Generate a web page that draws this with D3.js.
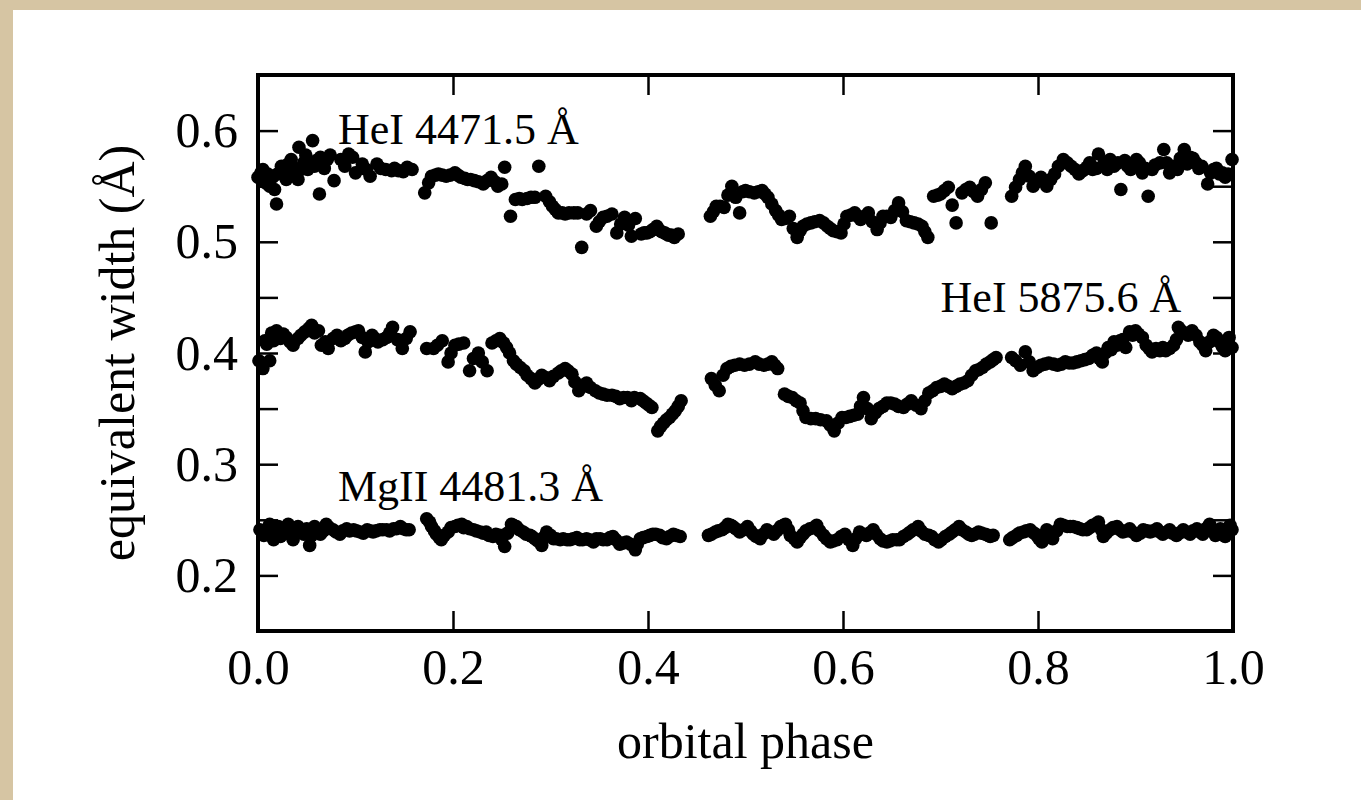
<!DOCTYPE html>
<html>
<head>
<meta charset="utf-8">
<script src="https://cdn.jsdelivr.net/npm/d3@7"></script>
<style>
  html, body { margin: 0; padding: 0; background: #d6c5a3; }
  #chart { width: 1361px; height: 800px; }
  text { font-family: "Liberation Serif", "Times New Roman", serif; fill: #000; }
</style>
</head>
<body>
<div id="chart"></div>
<script>
// Equivalent width vs orbital phase, three lines

// HeI 4471.5 A
const he4471Phase = [0.003, 0.005, 0.008, 0.012, 0.015, 0.019, 0.020, 0.024, 0.027, 0.029, 0.034, 0.036, 0.041, 0.042, 0.044, 0.047, 0.051, 0.056, 0.058, 0.063, 0.064, 0.071, 0.078, 0.085, 0.093, 0.100, 0.107, 0.115, 0.122, 0.131, 0.137, 0.144, 0.153, 0.158,
  0.171, 0.178, 0.185, 0.193, 0.202, 0.208, 0.215, 0.222, 0.231, 0.239, 0.246, 0.253, 0.259, 0.264, 0.271, 0.280, 0.288, 0.295, 0.302, 0.308, 0.315, 0.324, 0.332, 0.341, 0.347, 0.354, 0.363, 0.368, 0.376, 0.383, 0.387, 0.393, 0.399, 0.405, 0.409, 0.414, 0.419, 0.424, 0.427, 0.431,
  0.464, 0.470, 0.478, 0.486, 0.494, 0.500, 0.509, 0.517, 0.523, 0.531, 0.537, 0.545, 0.553, 0.559, 0.567, 0.576, 0.584, 0.590, 0.598, 0.604, 0.612, 0.618, 0.626, 0.635, 0.641, 0.649, 0.657, 0.665, 0.673, 0.681, 0.687, 0.693, 0.700, 0.708, 0.716, 0.722, 0.730, 0.738, 0.746, 0.752,
  0.773, 0.781, 0.787, 0.795, 0.803, 0.809, 0.817, 0.826, 0.834, 0.842, 0.850, 0.856, 0.862, 0.868, 0.874, 0.878, 0.885, 0.889, 0.895, 0.901, 0.907, 0.913, 0.917, 0.925, 0.929, 0.935, 0.943, 0.950, 0.956, 0.962, 0.968, 0.974, 0.980, 0.986, 0.992, 0.999,
  0.000, 0.010, 0.017, 0.031, 0.038, 0.049, 0.060, 0.068, 0.074, 0.089, 0.097, 0.111, 0.126, 0.140, 0.149,
  0.175, 0.182, 0.189, 0.197, 0.205, 0.212, 0.218, 0.226, 0.235, 0.243, 0.250, 0.268, 0.276, 0.284, 0.299, 0.305, 0.312, 0.319, 0.328, 0.337, 0.350, 0.358, 0.372, 0.380, 0.396, 0.402, 0.411, 0.417, 0.421,
  0.467, 0.474, 0.482, 0.490, 0.497, 0.504, 0.513, 0.520, 0.527, 0.534, 0.541, 0.549, 0.556, 0.563, 0.571, 0.580, 0.587, 0.594, 0.601, 0.608, 0.615, 0.622, 0.630, 0.638, 0.645, 0.653, 0.661, 0.669, 0.677, 0.684, 0.697, 0.704, 0.712, 0.726, 0.734, 0.742,
  0.777, 0.784, 0.791, 0.799, 0.806, 0.813, 0.821, 0.830, 0.838, 0.846, 0.853, 0.860, 0.871, 0.882, 0.892, 0.898, 0.904, 0.910, 0.920, 0.932, 0.939, 0.946, 0.953, 0.959, 0.965, 0.977, 0.983, 0.989, 0.995]
const he4471EW = [0.562, 0.565, 0.553, 0.550, 0.558, 0.534, 0.561, 0.568, 0.562, 0.556, 0.574, 0.567, 0.556, 0.585, 0.565, 0.571, 0.565, 0.591, 0.568, 0.543, 0.576, 0.574, 0.555, 0.574, 0.579, 0.562, 0.570, 0.559, 0.570, 0.565, 0.564, 0.564, 0.567, 0.565,
  0.544, 0.559, 0.561, 0.559, 0.562, 0.558, 0.556, 0.555, 0.552, 0.558, 0.550, 0.567, 0.523, 0.538, 0.538, 0.540, 0.568, 0.541, 0.532, 0.526, 0.525, 0.526, 0.495, 0.528, 0.514, 0.522, 0.525, 0.508, 0.522, 0.505, 0.521, 0.507, 0.508, 0.511, 0.514, 0.509, 0.507, 0.506, 0.504, 0.507,
  0.523, 0.532, 0.531, 0.550, 0.526, 0.546, 0.544, 0.546, 0.540, 0.528, 0.520, 0.523, 0.504, 0.514, 0.517, 0.519, 0.514, 0.510, 0.508, 0.523, 0.526, 0.520, 0.526, 0.511, 0.523, 0.522, 0.535, 0.519, 0.517, 0.514, 0.504, 0.541, 0.543, 0.549, 0.517, 0.544, 0.549, 0.541, 0.553, 0.517,
  0.541, 0.556, 0.568, 0.550, 0.558, 0.550, 0.561, 0.574, 0.568, 0.561, 0.567, 0.565, 0.579, 0.571, 0.574, 0.568, 0.547, 0.573, 0.565, 0.574, 0.562, 0.541, 0.565, 0.571, 0.583, 0.562, 0.565, 0.583, 0.576, 0.571, 0.568, 0.552, 0.565, 0.561, 0.558, 0.574,
  0.558, 0.561, 0.547, 0.570, 0.560, 0.578, 0.573, 0.566, 0.578, 0.568, 0.576, 0.565, 0.566, 0.566, 0.563,
  0.553, 0.560, 0.560, 0.560, 0.560, 0.557, 0.556, 0.554, 0.555, 0.554, 0.552, 0.539, 0.539, 0.540, 0.536, 0.529, 0.526, 0.526, 0.526, 0.525, 0.518, 0.523, 0.516, 0.515, 0.508, 0.509, 0.511, 0.508, 0.506,
  0.527, 0.532, 0.542, 0.540, 0.545, 0.545, 0.545, 0.543, 0.534, 0.524, 0.521, 0.512, 0.510, 0.516, 0.518, 0.517, 0.512, 0.509, 0.516, 0.524, 0.523, 0.523, 0.518, 0.517, 0.523, 0.528, 0.527, 0.518, 0.516, 0.509, 0.542, 0.546, 0.533, 0.547, 0.545, 0.547,
  0.549, 0.562, 0.559, 0.554, 0.554, 0.556, 0.568, 0.571, 0.565, 0.564, 0.571, 0.566, 0.565, 0.571, 0.568, 0.569, 0.571, 0.566, 0.569, 0.571, 0.568, 0.575, 0.570, 0.575, 0.566, 0.562, 0.566, 0.562, 0.561]

// HeI 5875.6 A
const he5875Phase = [0.005, 0.007, 0.012, 0.014, 0.019, 0.023, 0.029, 0.036, 0.041, 0.048, 0.055, 0.062, 0.065, 0.072, 0.081, 0.089, 0.096, 0.103, 0.110, 0.117, 0.123, 0.132, 0.138, 0.148, 0.156,
  0.173, 0.180, 0.189, 0.195, 0.202, 0.211, 0.217, 0.226, 0.235, 0.240, 0.248, 0.255, 0.262, 0.269, 0.276, 0.284, 0.291, 0.299, 0.308, 0.315, 0.322, 0.329, 0.337, 0.346, 0.354, 0.363, 0.371, 0.379, 0.386, 0.392, 0.398, 0.404, 0.410, 0.416, 0.422, 0.428, 0.434,
  0.465, 0.473, 0.481, 0.489, 0.499, 0.510, 0.519, 0.527, 0.533, 0.540, 0.548, 0.556, 0.562, 0.572, 0.583, 0.591, 0.599, 0.607, 0.615, 0.621, 0.629, 0.637, 0.645, 0.653, 0.662, 0.670, 0.680, 0.688, 0.696, 0.704, 0.712, 0.720, 0.728, 0.736, 0.743, 0.751, 0.757,
  0.773, 0.782, 0.787, 0.795, 0.803, 0.811, 0.820, 0.828, 0.836, 0.844, 0.852, 0.860, 0.866, 0.872, 0.878, 0.884, 0.890, 0.894, 0.900, 0.907, 0.911, 0.917, 0.925, 0.931, 0.939, 0.944, 0.950, 0.958, 0.966, 0.972, 0.980, 0.986, 0.992, 0.996,
  0.001, 0.009, 0.016, 0.026, 0.033, 0.044, 0.052, 0.058, 0.069, 0.077, 0.085, 0.092, 0.100, 0.107, 0.113, 0.120, 0.128, 0.135, 0.143, 0.152,
  0.184, 0.198, 0.206, 0.221, 0.230, 0.244, 0.252, 0.258, 0.265, 0.273, 0.280, 0.287, 0.295, 0.303, 0.311, 0.318, 0.325, 0.333, 0.341, 0.350, 0.358, 0.367, 0.375, 0.383, 0.395, 0.401, 0.413, 0.419, 0.425, 0.431,
  0.469, 0.477, 0.485, 0.494, 0.504, 0.514, 0.523, 0.530, 0.544, 0.552, 0.559, 0.567, 0.577, 0.587, 0.595, 0.603, 0.611, 0.618, 0.625, 0.633, 0.641, 0.649, 0.657, 0.666, 0.675, 0.684, 0.692, 0.700, 0.708, 0.716, 0.724, 0.732, 0.739, 0.747, 0.754,
  0.777, 0.791, 0.799, 0.807, 0.816, 0.824, 0.832, 0.840, 0.848, 0.856, 0.863, 0.869, 0.875, 0.881, 0.887, 0.897, 0.903, 0.914, 0.921, 0.928, 0.935, 0.942, 0.947, 0.954, 0.962, 0.969, 0.976, 0.983, 0.989, 0.999]
const he5875EW = [0.386, 0.411, 0.393, 0.418, 0.420, 0.413, 0.414, 0.407, 0.413, 0.419, 0.425, 0.420, 0.407, 0.404, 0.416, 0.413, 0.418, 0.420, 0.401, 0.416, 0.410, 0.414, 0.423, 0.404, 0.419,
  0.404, 0.404, 0.411, 0.392, 0.407, 0.409, 0.384, 0.400, 0.384, 0.409, 0.413, 0.405, 0.393, 0.387, 0.380, 0.373, 0.380, 0.375, 0.382, 0.386, 0.381, 0.366, 0.373, 0.366, 0.363, 0.362, 0.359, 0.360, 0.360, 0.359, 0.355, 0.351, 0.330, 0.337, 0.342, 0.348, 0.357,
  0.377, 0.366, 0.386, 0.389, 0.389, 0.392, 0.389, 0.392, 0.386, 0.363, 0.360, 0.355, 0.342, 0.341, 0.339, 0.330, 0.342, 0.343, 0.345, 0.360, 0.341, 0.350, 0.355, 0.354, 0.351, 0.357, 0.350, 0.364, 0.369, 0.372, 0.368, 0.372, 0.375, 0.384, 0.387, 0.392, 0.396,
  0.396, 0.389, 0.401, 0.384, 0.389, 0.391, 0.389, 0.392, 0.391, 0.393, 0.395, 0.400, 0.392, 0.405, 0.410, 0.411, 0.405, 0.419, 0.420, 0.414, 0.407, 0.401, 0.402, 0.402, 0.407, 0.423, 0.418, 0.420, 0.410, 0.402, 0.416, 0.410, 0.402, 0.414,
  0.393, 0.408, 0.411, 0.417, 0.410, 0.416, 0.422, 0.418, 0.410, 0.413, 0.411, 0.416, 0.419, 0.414, 0.410, 0.413, 0.412, 0.418, 0.412, 0.413,
  0.407, 0.400, 0.408, 0.395, 0.392, 0.411, 0.409, 0.400, 0.390, 0.384, 0.377, 0.376, 0.378, 0.379, 0.384, 0.384, 0.374, 0.370, 0.369, 0.364, 0.362, 0.361, 0.360, 0.357, 0.357, 0.353, 0.334, 0.340, 0.345, 0.352,
  0.371, 0.380, 0.388, 0.390, 0.390, 0.390, 0.390, 0.389, 0.361, 0.357, 0.348, 0.341, 0.340, 0.335, 0.337, 0.342, 0.344, 0.352, 0.350, 0.346, 0.352, 0.355, 0.352, 0.354, 0.353, 0.357, 0.366, 0.370, 0.370, 0.370, 0.373, 0.380, 0.385, 0.390, 0.394,
  0.393, 0.392, 0.387, 0.390, 0.390, 0.390, 0.391, 0.392, 0.394, 0.398, 0.395, 0.400, 0.403, 0.407, 0.412, 0.416, 0.417, 0.404, 0.404, 0.405, 0.404, 0.412, 0.420, 0.416, 0.416, 0.407, 0.410, 0.414, 0.406, 0.405]

// MgII 4481.3 A
const mg4481Phase = [0.009, 0.012, 0.016, 0.021, 0.026, 0.031, 0.036, 0.041, 0.047, 0.053, 0.058, 0.064, 0.070, 0.077, 0.084, 0.091, 0.098, 0.105, 0.112, 0.118, 0.125, 0.132, 0.139, 0.146, 0.152,
  0.173, 0.178, 0.183, 0.188, 0.195, 0.202, 0.209, 0.214, 0.221, 0.228, 0.234, 0.241, 0.248, 0.253, 0.260, 0.265, 0.272, 0.279, 0.284, 0.291, 0.296, 0.303, 0.310, 0.317, 0.323, 0.330, 0.337, 0.344, 0.351, 0.358, 0.364, 0.371, 0.378, 0.387, 0.392, 0.399, 0.405, 0.412, 0.419, 0.426, 0.433,
  0.462, 0.469, 0.476, 0.482, 0.487, 0.494, 0.502, 0.508, 0.515, 0.522, 0.529, 0.536, 0.541, 0.546, 0.553, 0.559, 0.566, 0.573, 0.580, 0.587, 0.594, 0.602, 0.610, 0.617, 0.624, 0.631, 0.638, 0.645, 0.651, 0.658, 0.666, 0.672, 0.677, 0.684, 0.691, 0.698, 0.705, 0.712, 0.719, 0.726, 0.732, 0.739, 0.746, 0.751,
  0.771, 0.778, 0.785, 0.792, 0.799, 0.804, 0.809, 0.815, 0.823, 0.830, 0.836, 0.843, 0.850, 0.856, 0.862, 0.867, 0.874, 0.881, 0.887, 0.894, 0.901, 0.908, 0.915, 0.922, 0.928, 0.935, 0.942, 0.949, 0.956, 0.963, 0.969, 0.976, 0.982, 0.987, 0.992, 0.997,
  0.002, 0.006, 0.014, 0.018, 0.023, 0.028, 0.033, 0.038, 0.044, 0.050, 0.055, 0.061, 0.067, 0.073, 0.080, 0.087, 0.094, 0.101, 0.108, 0.115, 0.121, 0.128, 0.135, 0.142, 0.149, 0.155,
  0.176, 0.181, 0.186, 0.191, 0.198, 0.205, 0.211, 0.217, 0.224, 0.231, 0.237, 0.244, 0.250, 0.256, 0.262, 0.268, 0.275, 0.281, 0.287, 0.293, 0.300, 0.306, 0.313, 0.320, 0.327, 0.333, 0.340, 0.347, 0.354, 0.361, 0.367, 0.374, 0.382, 0.389, 0.395, 0.402, 0.408, 0.415, 0.422, 0.429,
  0.465, 0.472, 0.479, 0.485, 0.490, 0.498, 0.505, 0.511, 0.518, 0.525, 0.532, 0.539, 0.544, 0.550, 0.556, 0.562, 0.570, 0.576, 0.583, 0.590, 0.598, 0.606, 0.613, 0.620, 0.627, 0.634, 0.641, 0.648, 0.655, 0.662, 0.669, 0.675, 0.680, 0.688, 0.694, 0.701, 0.709, 0.715, 0.722, 0.729, 0.735, 0.742, 0.749, 0.754,
  0.774, 0.781, 0.788, 0.796, 0.801, 0.807, 0.812, 0.819, 0.826, 0.833, 0.840, 0.846, 0.853, 0.859, 0.865, 0.870, 0.877, 0.884, 0.891, 0.897, 0.905, 0.912, 0.918, 0.925, 0.932, 0.938, 0.945, 0.952, 0.959, 0.966, 0.972, 0.979, 0.985, 0.990, 0.995, 0.999]
const mg4481EW = [0.239, 0.246, 0.232, 0.244, 0.237, 0.246, 0.232, 0.244, 0.237, 0.227, 0.244, 0.237, 0.246, 0.241, 0.237, 0.242, 0.241, 0.239, 0.241, 0.239, 0.241, 0.241, 0.242, 0.244, 0.241,
  0.251, 0.244, 0.237, 0.232, 0.239, 0.244, 0.246, 0.244, 0.241, 0.239, 0.239, 0.235, 0.236, 0.226, 0.246, 0.244, 0.239, 0.236, 0.233, 0.227, 0.239, 0.233, 0.232, 0.232, 0.233, 0.232, 0.233, 0.230, 0.233, 0.232, 0.235, 0.228, 0.230, 0.223, 0.233, 0.235, 0.237, 0.236, 0.233, 0.237, 0.235,
  0.236, 0.239, 0.241, 0.246, 0.244, 0.239, 0.244, 0.237, 0.233, 0.241, 0.237, 0.244, 0.246, 0.236, 0.230, 0.237, 0.242, 0.245, 0.236, 0.230, 0.232, 0.237, 0.227, 0.239, 0.236, 0.241, 0.233, 0.230, 0.232, 0.232, 0.237, 0.241, 0.244, 0.237, 0.235, 0.230, 0.235, 0.239, 0.244, 0.239, 0.236, 0.239, 0.237, 0.235,
  0.232, 0.236, 0.239, 0.241, 0.236, 0.230, 0.241, 0.233, 0.246, 0.244, 0.244, 0.242, 0.241, 0.245, 0.248, 0.235, 0.241, 0.244, 0.239, 0.242, 0.236, 0.241, 0.239, 0.242, 0.237, 0.241, 0.236, 0.241, 0.237, 0.242, 0.237, 0.246, 0.236, 0.242, 0.235, 0.245,
  0.241, 0.236, 0.240, 0.242, 0.235, 0.241, 0.240, 0.241, 0.240, 0.242, 0.236, 0.241, 0.240, 0.243, 0.239, 0.240, 0.240, 0.240, 0.238, 0.240, 0.240, 0.241, 0.240, 0.242, 0.242, 0.241,
  0.248, 0.240, 0.234, 0.236, 0.243, 0.245, 0.243, 0.242, 0.240, 0.238, 0.236, 0.237, 0.232, 0.238, 0.245, 0.241, 0.237, 0.235, 0.231, 0.234, 0.236, 0.233, 0.233, 0.232, 0.234, 0.232, 0.232, 0.233, 0.232, 0.234, 0.232, 0.229, 0.228, 0.228, 0.234, 0.236, 0.237, 0.234, 0.235, 0.236,
  0.237, 0.240, 0.243, 0.245, 0.242, 0.241, 0.240, 0.235, 0.237, 0.239, 0.240, 0.245, 0.241, 0.233, 0.234, 0.240, 0.243, 0.240, 0.233, 0.231, 0.235, 0.232, 0.233, 0.237, 0.238, 0.237, 0.231, 0.231, 0.232, 0.235, 0.239, 0.242, 0.240, 0.236, 0.232, 0.232, 0.237, 0.241, 0.241, 0.237, 0.237, 0.238, 0.236, 0.236,
  0.234, 0.238, 0.240, 0.238, 0.233, 0.236, 0.237, 0.240, 0.245, 0.244, 0.243, 0.241, 0.243, 0.246, 0.241, 0.238, 0.243, 0.241, 0.240, 0.239, 0.238, 0.240, 0.240, 0.239, 0.239, 0.238, 0.238, 0.239, 0.240, 0.239, 0.242, 0.241, 0.239, 0.238, 0.240, 0.241]

const xTicks = [0, 0.2, 0.4, 0.6, 0.8, 1.0]
const yTicks = [0.2, 0.25, 0.3, 0.35, 0.4, 0.45, 0.5, 0.55, 0.6]
const yLabels = [0.2, 0.3, 0.4, 0.5, 0.6]

const series = [
  { name: 'HeI 4471.5 Å', phase: he4471Phase, ew: he4471EW },
  { name: 'HeI 5875.6 Å', phase: he5875Phase, ew: he5875EW },
  { name: 'MgII 4481.3 Å', phase: mg4481Phase, ew: mg4481EW }
]

// Plot box
const plot = { left: 258, right: 1233, top: 75, bottom: 631 }

const svg = d3.select('#chart')
  .append('svg')
  .attr('width', 1361)
  .attr('height', 800)

// white slide panel
svg.append('rect')
  .attr('x', 13)
  .attr('y', 10)
  .attr('width', 1361 - 13)
  .attr('height', 800 - 10)
  .attr('fill', '#fff')

const x = d3.scaleLinear().domain([0, 1]).range([plot.left, plot.right])
const y = d3.scaleLinear().domain([0.15, 0.65]).range([plot.bottom, plot.top])

const tickFont = 50
const labelFont = 44
const titleFont = 50
const tickLen = 20

const styleAxis = g => {
  g.select('.domain').remove()
  g.selectAll('.tick line').attr('stroke', '#000').attr('stroke-width', 2.5)
  g.selectAll('.tick text')
    .style('font-family', '"Liberation Serif", "Times New Roman", serif')
    .style('font-size', `${tickFont}px`)
    .attr('fill', '#000')
}

// bottom axis with labels
svg.append('g')
  .attr('transform', `translate(0, ${plot.bottom})`)
  .call(d3.axisBottom(x).tickValues(xTicks).tickSize(-tickLen).tickSizeOuter(0)
    .tickPadding(17).tickFormat(d3.format('.1f')))
  .call(styleAxis)

// top axis, ticks only
svg.append('g')
  .attr('transform', `translate(0, ${plot.top})`)
  .call(d3.axisTop(x).tickValues(xTicks.slice(1, -1)).tickSize(-tickLen).tickSizeOuter(0).tickFormat(''))
  .call(styleAxis)

// left axis
svg.append('g')
  .attr('transform', `translate(${plot.left}, 0)`)
  .call(d3.axisLeft(y).tickValues(yTicks).tickSize(-tickLen).tickSizeOuter(0).tickPadding(20)
    .tickFormat(d => yLabels.some(v => Math.abs(v - d) < 1e-6) ? d3.format('.1f')(d) : ''))
  .call(styleAxis)

// right axis, ticks only
svg.append('g')
  .attr('transform', `translate(${plot.right}, 0)`)
  .call(d3.axisRight(y).tickValues(yTicks).tickSize(-tickLen).tickSizeOuter(0).tickFormat(''))
  .call(styleAxis)

// points
const points = svg.append('g')
series.forEach(s => {
  points.selectAll(null)
    .data(s.phase.map((p, i) => [p, s.ew[i]]))
    .enter().append('circle')
    .attr('cx', d => x(d[0]))
    .attr('cy', d => y(d[1]))
    .attr('r', 6.8)
    .attr('fill', '#000')
})

// frame
svg.append('rect')
  .attr('x', plot.left)
  .attr('y', plot.top)
  .attr('width', plot.right - plot.left)
  .attr('height', plot.bottom - plot.top)
  .attr('fill', 'none')
  .attr('stroke', '#000')
  .attr('stroke-width', 4)

// series labels
svg.append('text')
  .text(series[0].name)
  .attr('x', x(0.082)).attr('y', y(0.588))
  .style('font-size', `${labelFont}px`)

svg.append('text')
  .text(series[1].name)
  .attr('x', x(0.947)).attr('y', y(0.437))
  .attr('text-anchor', 'end')
  .style('font-size', `${labelFont}px`)

svg.append('text')
  .text(series[2].name)
  .attr('x', x(0.082)).attr('y', y(0.267))
  .style('font-size', `${labelFont}px`)

// axis titles
svg.append('text')
  .text('orbital phase')
  .attr('x', (plot.left + plot.right) / 2)
  .attr('y', 758)
  .attr('text-anchor', 'middle')
  .style('font-size', `${titleFont}px`)

svg.append('text')
  .text('equivalent width (Å)')
  .attr('transform', `translate(134, ${y(0.4)}) rotate(-90)`)
  .attr('text-anchor', 'middle')
  .style('font-size', `${titleFont}px`)
</script>
</body>
</html>
